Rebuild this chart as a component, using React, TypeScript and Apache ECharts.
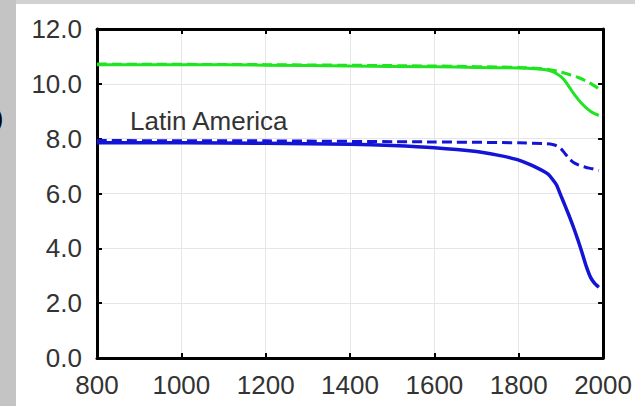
import React, { useEffect, useRef } from "react";
import * as echarts from "echarts";

const xTicks = [800, 1000, 1200, 1400, 1600, 1800, 2000];
const yTicks = [0, 2, 4, 6, 8, 10, 12];

const greenSolidYears = [800, 1000, 1200, 1400, 1600, 1700, 1800, 1820, 1840, 1860, 1870, 1880, 1890, 1900, 1910, 1920, 1930, 1940, 1950, 1960, 1970, 1980, 1990];
const greenSolidValues = [10.7, 10.7, 10.68, 10.65, 10.62, 10.6, 10.58, 10.57, 10.55, 10.52, 10.49, 10.45, 10.37, 10.26, 10.1, 9.88, 9.65, 9.45, 9.27, 9.12, 9.0, 8.91, 8.85];

const greenDashYears = [800, 1200, 1600, 1800, 1840, 1860, 1880, 1900, 1920, 1940, 1960, 1975, 1990];
const greenDashValues = [10.72, 10.7, 10.65, 10.6, 10.57, 10.55, 10.5, 10.43, 10.34, 10.24, 10.1, 9.97, 9.82];

const blueSolidYears = [800, 1000, 1200, 1400, 1500, 1600, 1700, 1750, 1780, 1800, 1820, 1840, 1860, 1870, 1880, 1890, 1900, 1910, 1920, 1930, 1940, 1950, 1960, 1970, 1980, 1990];
const blueSolidValues = [7.85, 7.85, 7.83, 7.8, 7.75, 7.67, 7.53, 7.4, 7.3, 7.22, 7.1, 6.96, 6.8, 6.7, 6.52, 6.3, 5.92, 5.55, 5.17, 4.76, 4.32, 3.85, 3.35, 2.95, 2.72, 2.58];

const blueDashYears = [800, 1200, 1600, 1800, 1860, 1880, 1890, 1900, 1910, 1920, 1930, 1940, 1950, 1960, 1975, 1990];
const blueDashValues = [7.93, 7.92, 7.88, 7.85, 7.82, 7.79, 7.74, 7.64, 7.45, 7.27, 7.13, 7.05, 6.99, 6.95, 6.9, 6.84];

const annotation = "Latin America";

const pairs = (xs: number[], ys: number[]) => xs.map((x, i) => [x, ys[i]]);

const FONT = "'Liberation Sans', Arial, Helvetica, sans-serif";
const TEXT = "#333333";
const GREEN = "#1fe41f";
const BLUE = "#1414d6";

export default function App() {
  const ref = useRef<HTMLDivElement>(null);
  useEffect(() => {
    document.body.style.margin = "0";
    const chart = echarts.init(ref.current!, null, { renderer: "svg" });
    const xMin = xTicks[0];
    const xMax = xTicks[xTicks.length - 1];
    const yMin = yTicks[0];
    const yMax = yTicks[yTicks.length - 1];
    const axisBase = {
      type: "value" as const,
      axisLine: { show: true, onZero: false, lineStyle: { color: "#000", width: 3 } },
      axisTick: { show: true, inside: true, length: 5, lineStyle: { color: "#000", width: 2 } },
    };
    const lineBase = { type: "line" as const, smooth: 0.2, showSymbol: false };
    chart.setOption({
      animation: false,
      backgroundColor: "#ffffff",
      grid: { left: 97, right: 30, top: 29, bottom: 48, containLabel: false },
      xAxis: [
        {
          ...axisBase,
          position: "bottom",
          min: xMin,
          max: xMax,
          interval: 200,
          axisLabel: {
            show: true,
            margin: 14,
            color: TEXT,
            fontSize: 26,
            fontFamily: FONT,
            showMaxLabel: true,
            showMinLabel: true,
            formatter: (v: number) => String(v),
          },
          splitLine: { show: true, lineStyle: { color: "#e6e6e6", width: 1 } },
        },
        {
          ...axisBase,
          position: "top",
          min: xMin,
          max: xMax,
          interval: 200,
          axisLabel: { show: false },
          splitLine: { show: false },
        },
      ],
      yAxis: [
        {
          ...axisBase,
          position: "left",
          min: yMin,
          max: yMax,
          interval: 2,
          axisLabel: {
            show: true,
            margin: 15,
            color: TEXT,
            fontSize: 26,
            fontFamily: FONT,
            formatter: (v: number) => v.toFixed(1),
          },
          splitLine: { show: true, lineStyle: { color: "#e6e6e6", width: 1 } },
        },
        {
          ...axisBase,
          position: "right",
          min: yMin,
          max: yMax,
          interval: 2,
          axisLabel: { show: false },
          splitLine: { show: false },
        },
      ],
      graphic: [
        { type: "rect", shape: { x: 0, y: 0, width: 16, height: 406 }, style: { fill: "#c4c4c4" }, z: 0 },
        { type: "rect", shape: { x: 16, y: 0, width: 619, height: 4 }, style: { fill: "#d2d2d2" }, z: 0 },
        {
          type: "text",
          x: -5,
          y: 118,
          style: { text: ")", fontSize: 25, fontFamily: FONT, fill: "#000", verticalAlign: "middle", align: "left" },
          z: 1,
        },
        {
          type: "text",
          x: 130,
          y: 121,
          style: { text: annotation, fontSize: 26, fontFamily: FONT, fill: TEXT, verticalAlign: "middle", align: "left" },
          z: 10,
        },
      ],
      series: [
        {
          ...lineBase,
          data: pairs(greenDashYears, greenDashValues),
          lineStyle: { color: GREEN, width: 3, type: [10, 5] },
          z: 2,
        },
        {
          ...lineBase,
          data: pairs(greenSolidYears, greenSolidValues),
          lineStyle: { color: GREEN, width: 3 },
          z: 3,
        },
        {
          ...lineBase,
          data: pairs(blueDashYears, blueDashValues),
          lineStyle: { color: BLUE, width: 3, type: [10, 5] },
          z: 2,
        },
        {
          ...lineBase,
          data: pairs(blueSolidYears, blueSolidValues),
          lineStyle: { color: BLUE, width: 3.5 },
          z: 3,
        },
      ],
    });
    return () => chart.dispose();
  }, []);
  return <div ref={ref} style={{ width: 635, height: 406 }} />;
}
